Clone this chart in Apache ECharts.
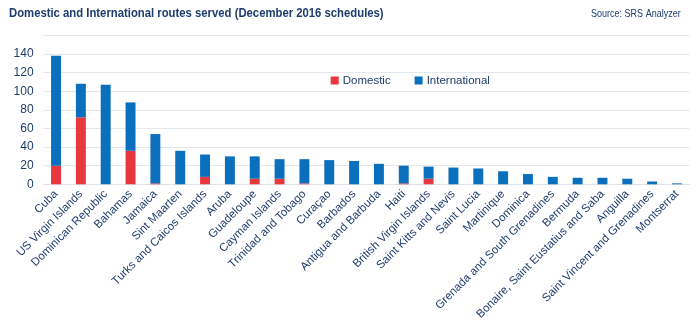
<!DOCTYPE html>
<html>
<head>
<meta charset="utf-8">
<script src="https://cdn.jsdelivr.net/npm/echarts@6/dist/echarts.min.js"></script>
<style>
  html, body { margin: 0; padding: 0; background: #ffffff; }
  #chart { width: 698px; height: 328px; }
</style>
</head>
<body>
<div id="chart"></div>
<script>
// Routes served per island/country, December 2016 schedules
const categories = [
  'Cuba', 'US Virgin Islands', 'Dominican Republic', 'Bahamas', 'Jamaica',
  'Sint Maarten', 'Turks and Caicos Islands', 'Aruba', 'Guadeloupe',
  'Cayman Islands', 'Trinidad and Tobago', 'Curaçao', 'Barbados',
  'Antigua and Barbuda', 'Haiti', 'British Virgin Islands',
  'Saint Kitts and Nevis', 'Saint Lucia', 'Martinique', 'Dominica',
  'Grenada and South Grenadines', 'Bermuda',
  'Bonaire, Saint Eustatius and Saba', 'Anguilla',
  'Saint Vincent and Grenadines', 'Montserrat'
];
const domestic = [20, 72, 0, 36, 1, 0, 8, 0, 6, 6, 1, 0, 0, 0, 1, 6, 0, 0, 0, 0, 0, 0, 0, 0, 0, 0];
const international = [118, 36, 107, 52, 53, 36, 24, 30, 24, 21, 26, 26, 25, 22, 19, 13, 18, 17, 14, 11, 8, 7, 7, 6, 3, 1];
const yTicks = [0, 20, 40, 60, 80, 100, 120, 140];

const navy = '#1f3c6e';
const red = '#e9383d';
const blue = '#0a6fbd';
const sans = '"Liberation Sans", Arial, sans-serif';

const chart = echarts.init(document.getElementById('chart'), null, { renderer: 'canvas' });

chart.setOption({
  animation: false,
  backgroundColor: '#ffffff',
  // Heading and source note, set in a condensed face
  graphic: [
    {
      type: 'text',
      x: 9,
      y: 13,
      scaleX: 0.87,
      style: {
        text: 'Domestic and International routes served (December 2016 schedules)',
        font: 'bold 13px ' + sans,
        fill: navy,
        textVerticalAlign: 'middle'
      }
    },
    {
      type: 'text',
      x: 591,
      y: 14,
      scaleX: 0.82,
      style: {
        text: 'Source: SRS Analyzer',
        font: '11px ' + sans,
        fill: navy,
        textVerticalAlign: 'middle'
      }
    }
  ],
  legend: {
    data: ['Domestic', 'International'],
    left: 325.7,
    top: 69.5,
    itemWidth: 8,
    itemHeight: 8,
    itemGap: 24,
    icon: 'rect',
    textStyle: {
      fontFamily: sans,
      fontSize: 11.5,
      color: navy,
      padding: [0, 0, 0, -1]
    }
  },
  grid: {
    left: 43.6,
    right: 8.6,
    top: 35.4,
    bottom: 143.7,
    containLabel: false
  },
  xAxis: {
    type: 'category',
    data: categories,
    axisLine: { show: true, lineStyle: { color: '#dfe3e8', width: 1 } },
    axisTick: { show: false },
    axisLabel: {
      interval: 0,
      rotate: 45,
      margin: 8,
      fontFamily: sans,
      fontSize: 11.5,
      color: navy
    }
  },
  yAxis: {
    type: 'value',
    min: 0,
    max: 160,
    interval: 20,
    axisLine: { show: false },
    axisTick: { show: false },
    splitLine: { lineStyle: { color: '#e4e7eb', width: 1 } },
    axisLabel: {
      margin: 10,
      fontFamily: sans,
      fontSize: 12,
      color: navy,
      formatter: function (v) { return yTicks.indexOf(v) >= 0 ? String(v) : ''; }
    }
  },
  series: [
    {
      name: 'Domestic',
      type: 'bar',
      stack: 'routes',
      data: domestic,
      barWidth: '40%',
      itemStyle: { color: red }
    },
    {
      name: 'International',
      type: 'bar',
      stack: 'routes',
      data: international,
      barWidth: '40%',
      itemStyle: { color: blue }
    }
  ]
});
</script>
</body>
</html>
